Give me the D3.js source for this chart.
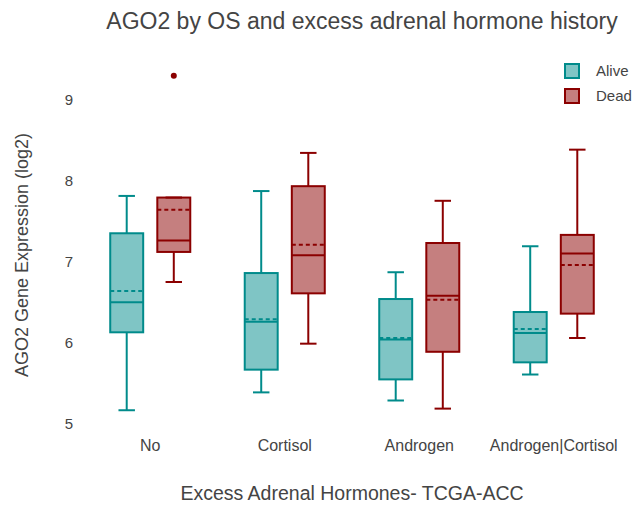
<!DOCTYPE html>
<html>
<head>
<meta charset="utf-8">
<script src="https://d3js.org/d3.v7.min.js"></script>
<style>
  body { margin: 0; background: #fff; }
  text { font-family: Arial, "Liberation Sans", sans-serif; fill: #444; }
</style>
</head>
<body>
<div id="container"></div>
<script>
document.addEventListener("DOMContentLoaded", function() {
    const width = 635;
    const height = 505;

    // categories and groups
    const categories = ["No", "Cortisol", "Androgen", "Androgen|Cortisol"];
    const groups = ["Alive", "Dead"];
    const yTicks = [5, 6, 7, 8, 9];

    // box stats, one value per category
    const aliveLower  = [5.17, 5.39, 5.29, 5.61];
    const aliveQ1     = [6.13, 5.67, 5.55, 5.76];
    const aliveMedian = [6.50, 6.26, 6.04, 6.12];
    const aliveMean   = [6.64, 6.29, 6.06, 6.17];
    const aliveQ3     = [7.35, 6.86, 6.54, 6.38];
    const aliveUpper  = [7.81, 7.87, 6.87, 7.19];

    const deadLower  = [6.75, 5.99, 5.19, 6.06];
    const deadQ1     = [7.12, 6.61, 5.89, 6.36];
    const deadMedian = [7.26, 7.08, 6.58, 7.10];
    const deadMean   = [7.64, 7.21, 6.53, 6.96];
    const deadQ3     = [7.79, 7.93, 7.23, 7.33];
    const deadUpper  = [7.79, 8.34, 7.75, 8.38];

    const outliers = [
        { category: "No", group: "Dead", value: 9.29 }
    ];

    const colors = { "Alive": "#008b8b", "Dead": "#8b0000" };

    const plot = { left: 83, right: 621, top: 55, bottom: 435 };

    // build box records from the arrays
    let boxes = [];
    categories.forEach(function(c, i) {
        boxes.push({ category: c, group: "Alive", lower: aliveLower[i], q1: aliveQ1[i],
            median: aliveMedian[i], mean: aliveMean[i], q3: aliveQ3[i], upper: aliveUpper[i] });
        boxes.push({ category: c, group: "Dead", lower: deadLower[i], q1: deadQ1[i],
            median: deadMedian[i], mean: deadMean[i], q3: deadQ3[i], upper: deadUpper[i] });
    });

    const svg = d3.select("div#container")
        .append("svg")
        .attr("width", width)
        .attr("height", height);

    const xScale = d3.scaleBand()
        .domain(categories)
        .range([plot.left, plot.right]);

    const bw = xScale.bandwidth();
    const inner = d3.scaleBand()
        .domain(groups)
        .range([bw * 0.15, bw * 0.85]);
    const boxW = inner.bandwidth() * 0.7;

    const yScale = d3.scaleLinear()
        .domain([4.865, 9.546])
        .range([plot.bottom, plot.top]);

    const cx = d => xScale(d.category) + inner(d.group) + inner.bandwidth() / 2;

    // axes
    const xAxis = d3.axisBottom(xScale).tickSize(0).tickPadding(5);
    const yAxis = d3.axisLeft(yScale).tickValues(yTicks).tickFormat(d3.format("d"))
        .tickSize(0).tickPadding(10);

    const gx = svg.append("g")
        .attr("transform", "translate(0," + plot.bottom + ")")
        .call(xAxis);
    gx.select(".domain").remove();
    gx.selectAll("text").style("font-size", "16px").attr("fill", "#444");

    const gy = svg.append("g")
        .attr("transform", "translate(" + plot.left + ",0)")
        .call(yAxis);
    gy.select(".domain").remove();
    gy.selectAll("text").style("font-size", "15px").attr("fill", "#444");

    // boxes
    const g = svg.selectAll("g.box")
        .data(boxes)
        .enter().append("g")
        .attr("class", "box");

    g.append("line")
        .attr("x1", cx).attr("x2", cx)
        .attr("y1", d => yScale(d.upper))
        .attr("y2", d => yScale(d.q3));
    g.append("line")
        .attr("x1", cx).attr("x2", cx)
        .attr("y1", d => yScale(d.q1))
        .attr("y2", d => yScale(d.lower));
    g.append("line")
        .attr("x1", d => cx(d) - boxW / 4).attr("x2", d => cx(d) + boxW / 4)
        .attr("y1", d => yScale(d.upper)).attr("y2", d => yScale(d.upper));
    g.append("line")
        .attr("x1", d => cx(d) - boxW / 4).attr("x2", d => cx(d) + boxW / 4)
        .attr("y1", d => yScale(d.lower)).attr("y2", d => yScale(d.lower));

    g.append("rect")
        .attr("x", d => cx(d) - boxW / 2)
        .attr("width", boxW)
        .attr("y", d => yScale(d.q3))
        .attr("height", d => yScale(d.q1) - yScale(d.q3))
        .attr("fill", d => colors[d.group])
        .attr("fill-opacity", 0.5);

    g.append("line")
        .attr("x1", d => cx(d) - boxW / 2).attr("x2", d => cx(d) + boxW / 2)
        .attr("y1", d => yScale(d.median)).attr("y2", d => yScale(d.median));
    g.append("line")
        .attr("x1", d => cx(d) - boxW / 2).attr("x2", d => cx(d) + boxW / 2)
        .attr("y1", d => yScale(d.mean)).attr("y2", d => yScale(d.mean))
        .attr("stroke-dasharray", "4,3");

    g.selectAll("line, rect")
        .attr("stroke", function() { return colors[d3.select(this.parentNode).datum().group]; })
        .attr("stroke-width", 2);

    // outliers
    svg.selectAll("circle.outlier")
        .data(outliers)
        .enter().append("circle")
        .attr("class", "outlier")
        .attr("cx", cx)
        .attr("cy", d => yScale(d.value))
        .attr("r", 3)
        .attr("fill", d => colors[d.group]);

    // titles
    svg.append("text")
        .attr("x", 362)
        .attr("y", 29)
        .attr("text-anchor", "middle")
        .style("font-size", "23px")
        .text("AGO2 by OS and excess adrenal hormone history");

    svg.append("text")
        .attr("x", 352)
        .attr("y", 500)
        .attr("text-anchor", "middle")
        .style("font-size", "19.5px")
        .text("Excess Adrenal Hormones- TCGA-ACC");

    svg.append("text")
        .attr("transform", "translate(28,255) rotate(-90)")
        .attr("text-anchor", "middle")
        .style("font-size", "18px")
        .text("AGO2 Gene Expression (log2)");

    // legend
    const legend = svg.selectAll("g.legend")
        .data(groups)
        .enter().append("g")
        .attr("class", "legend")
        .attr("transform", (d, i) => "translate(565," + (64 + i * 25) + ")");
    legend.append("rect")
        .attr("width", 14).attr("height", 14)
        .attr("fill", d => colors[d]).attr("fill-opacity", 0.5)
        .attr("stroke", d => colors[d]).attr("stroke-width", 2);
    legend.append("text")
        .attr("x", 31).attr("y", 12)
        .style("font-size", "15px")
        .text(d => d);
});
</script>
</body>
</html>
